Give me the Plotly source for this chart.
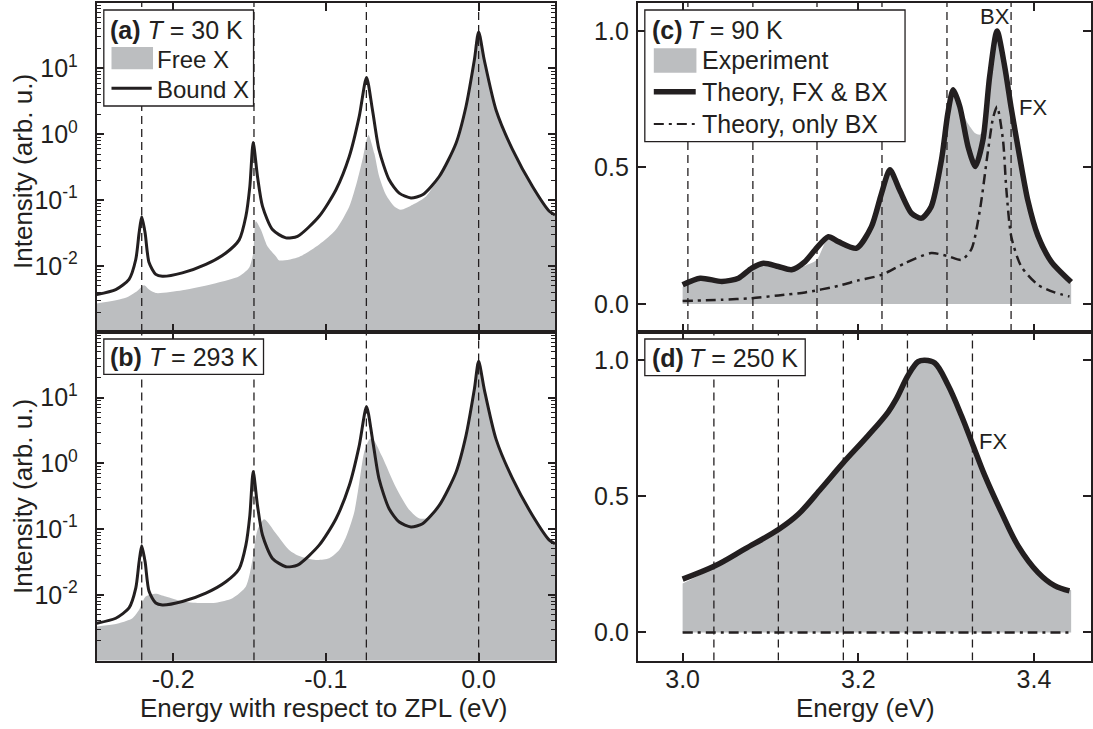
import plotly.graph_objects as go

W, H = 1093, 729
INK = "#231f20"
GREY = "#bcbec0"
FONT = "Liberation Sans, Arial, Helvetica, sans-serif"

# ---------------- data ----------------
# (a)/(b): energy relative to ZPL (eV); bound exciton theory (same in both panels)
bound_x = [-0.25, -0.2376, -0.2289, -0.2245, -0.2223, -0.2206, -0.2184, -0.2158, -0.2114, -0.2071,
           -0.194, -0.1786, -0.1655, -0.1568, -0.1524, -0.1498, -0.1476, -0.1448, -0.1415, -0.135,
           -0.1262, -0.1186, -0.1044, -0.0934, -0.0847, -0.0782, -0.0734, -0.0695, -0.0652, -0.0586,
           -0.052, -0.0443, -0.0367, -0.0258, -0.0148, -0.0083, -0.0028, 0.0, 0.0037, 0.0114,
           0.0223, 0.0354, 0.0463, 0.05]
bound_y = [0.0037, 0.0044, 0.0063, 0.0126, 0.032, 0.056, 0.032, 0.0113, 0.0075, 0.0070,
           0.0079, 0.0106, 0.0158, 0.025, 0.057, 0.162, 0.75, 0.229, 0.0805, 0.0358,
           0.0268, 0.0283, 0.057, 0.144, 0.46, 1.85, 7.3, 2.34, 0.58, 0.204,
           0.128, 0.108, 0.121, 0.229, 0.733, 2.62, 13.4, 35.8, 13.4, 2.34,
           0.58, 0.16, 0.068, 0.06]

# (a) free exciton, T = 30 K
free30_x = [-0.25, -0.2311, -0.2235, -0.2191, -0.2158, -0.2114, -0.194, -0.1721, -0.1568, -0.1503,
            -0.1476, -0.1459, -0.1426, -0.1383, -0.1328, -0.1306, -0.1176, -0.1044, -0.0934, -0.0847,
            -0.0793, -0.0756, -0.0734, -0.0721, -0.0683, -0.0651, -0.0607, -0.0552, -0.0509, -0.0432,
            -0.0345, -0.0258, -0.0148, -0.0083, -0.0028, 0.0, 0.0037, 0.0114, 0.0223, 0.0354,
            0.0463, 0.05]
free30_y = [0.0027, 0.0033, 0.0042, 0.0051, 0.0044, 0.0039, 0.0043, 0.0055, 0.0070, 0.0094,
            0.0158, 0.048, 0.0358, 0.020, 0.0141, 0.0122, 0.0138, 0.0212, 0.0358, 0.080,
            0.204, 0.46, 0.82, 0.98, 0.516, 0.229, 0.121, 0.0805, 0.0718, 0.0855,
            0.114, 0.229, 0.733, 2.62, 13.4, 35.8, 13.4, 2.34, 0.58, 0.16,
            0.068, 0.06]

# (b) free exciton, T = 293 K
free293_x = [-0.25, -0.2355, -0.2267, -0.2223, -0.218, -0.2114, -0.2049, -0.194, -0.183, -0.1721,
             -0.1612, -0.1524, -0.1481, -0.1448, -0.1404, -0.1328, -0.1241, -0.1175, -0.1066, -0.0978,
             -0.0913, -0.0869, -0.0816, -0.0782, -0.0749, -0.0717, -0.0704, -0.0683, -0.0631, -0.0541,
             -0.0453, -0.0387, -0.0322, -0.0258, -0.0148, -0.0083, -0.0028, 0.0, 0.0037, 0.0114,
             0.0223, 0.0354, 0.0463, 0.05]
free293_y = [0.0033, 0.0037, 0.0044, 0.0059, 0.0094, 0.0104, 0.0094, 0.0079, 0.0075, 0.0076,
             0.0089, 0.0134, 0.0339, 0.0968, 0.141, 0.0863, 0.0482, 0.039, 0.034, 0.036,
             0.048, 0.075, 0.174, 0.5, 1.5, 2.3, 2.4, 2.2, 1.26, 0.43,
             0.195, 0.145, 0.15, 0.229, 0.733, 2.62, 13.4, 35.8, 13.4, 2.34,
             0.58, 0.16, 0.068, 0.06]

# phonon replica positions (eV)
zpl_replicas = [-0.2206, -0.1471, -0.0735, 0.0]

# (c) T = 90 K, energy (eV)
exp90_x = [3.0, 3.0201, 3.0447, 3.0636, 3.0788, 3.092, 3.109, 3.124, 3.1394, 3.1526,
           3.1659, 3.1773, 3.198, 3.215, 3.2265, 3.236, 3.247, 3.2606, 3.272, 3.283,
           3.2947, 3.302, 3.308, 3.3156, 3.325, 3.3333, 3.3383, 3.342, 3.3477, 3.3496,
           3.358, 3.3667, 3.374, 3.3837, 3.393, 3.4045, 3.4197, 3.4424]
exp90_y = [0.062, 0.088, 0.078, 0.090, 0.127, 0.145, 0.133, 0.120, 0.140, 0.161,
           0.240, 0.225, 0.200, 0.275, 0.400, 0.485, 0.415, 0.330, 0.310, 0.350,
           0.520, 0.690, 0.775, 0.720, 0.660, 0.625, 0.620, 0.640, 0.740, 0.790,
           0.990, 0.870, 0.720, 0.550, 0.400, 0.270, 0.170, 0.075]

fxbx90_x = [3.0, 3.0201, 3.0447, 3.0636, 3.0788, 3.092, 3.109, 3.124, 3.1394, 3.1508,
            3.1659, 3.1773, 3.198, 3.215, 3.2265, 3.236, 3.247, 3.2606, 3.272, 3.283,
            3.2947, 3.302, 3.308, 3.3156, 3.325, 3.3333, 3.342, 3.3496, 3.358, 3.3667,
            3.374, 3.3837, 3.393, 3.4045, 3.4197, 3.4424]
fxbx90_y = [0.070, 0.094, 0.082, 0.094, 0.131, 0.149, 0.137, 0.125, 0.155, 0.198,
            0.246, 0.228, 0.204, 0.283, 0.405, 0.491, 0.418, 0.332, 0.314, 0.356,
            0.527, 0.698, 0.784, 0.723, 0.576, 0.503, 0.601, 0.833, 1.0, 0.87,
            0.72, 0.54, 0.38, 0.25, 0.155, 0.08]

bx90_x = [3.0, 3.0447, 3.0788, 3.109, 3.1394, 3.1773, 3.2, 3.2265, 3.253, 3.283,
          3.302, 3.3174, 3.3288, 3.3383, 3.3477, 3.3534, 3.358, 3.3648, 3.3686, 3.3743,
          3.3856, 3.4045, 3.4235, 3.4405]
bx90_y = [0.011, 0.015, 0.021, 0.031, 0.042, 0.066, 0.086, 0.106, 0.149, 0.186,
          0.175, 0.161, 0.200, 0.340, 0.560, 0.680, 0.723, 0.600, 0.420, 0.245,
          0.137, 0.070, 0.042, 0.027]

replicas_90 = [3.006, 3.080, 3.153, 3.227, 3.301, 3.374]

# (d) T = 250 K
exp250_x = [3.0, 3.037, 3.071, 3.11, 3.132, 3.158, 3.183, 3.2114, 3.234, 3.2435,
            3.2568, 3.2682, 3.2758, 3.2871, 3.3023, 3.3174, 3.3307, 3.344, 3.3629, 3.3818,
            3.4045, 3.4235, 3.4424]
exp250_y = [0.18, 0.24, 0.30, 0.375, 0.43, 0.525, 0.62, 0.72, 0.805, 0.855,
            0.94, 0.99, 0.995, 0.985, 0.91, 0.81, 0.705, 0.595, 0.46, 0.335,
            0.23, 0.18, 0.155]

fxbx250_x = [3.0, 3.037, 3.071, 3.11, 3.132, 3.158, 3.183, 3.2114, 3.234, 3.2435,
             3.2568, 3.2682, 3.2758, 3.2871, 3.3023, 3.3174, 3.3307, 3.344, 3.3629, 3.3818,
             3.4045, 3.4235, 3.4405]
fxbx250_y = [0.196, 0.245, 0.307, 0.38, 0.435, 0.53, 0.624, 0.724, 0.81, 0.859,
             0.945, 0.995, 1.0, 0.99, 0.908, 0.797, 0.687, 0.577, 0.442, 0.319,
             0.221, 0.172, 0.153]

bx250_x = [3.0, 3.1, 3.2, 3.3, 3.4, 3.4424]
bx250_y = [0.0, 0.0, 0.0, 0.0, 0.0, 0.0]

replicas_250 = [3.0356, 3.109, 3.183, 3.256, 3.330]

# axis ranges / ticks
LOG_RANGE = [-3, 2]
LIN_RANGE = [-0.103, 1.104]
ZPL_RANGE = [-0.25, 0.05]
E_RANGE = [2.949, 3.465]

# ---------------- figure ----------------
fig = go.Figure()


def px_x(x):
    return x / W


def px_y(y):
    return 1 - y / H


def add_fill(x, y, xa, ya):
    fig.add_trace(go.Scatter(x=x, y=y, xaxis=xa, yaxis=ya, mode="lines", fill="tozeroy",
                             fillcolor=GREY, line=dict(width=0, shape="spline", smoothing=0.7),
                             hoverinfo="skip", showlegend=False))


def add_replicas(xs, ylo, yhi, xa, ya):
    for e in xs:
        fig.add_trace(go.Scatter(x=[e, e], y=[ylo, yhi], xaxis=xa, yaxis=ya, mode="lines",
                                 line=dict(color=INK, width=1.3, dash="8px,5px"),
                                 hoverinfo="skip", showlegend=False))


def add_line(x, y, xa, ya, width, dash="solid", smoothing=0.7):
    fig.add_trace(go.Scatter(x=x, y=y, xaxis=xa, yaxis=ya, mode="lines",
                             line=dict(color=INK, width=width, dash=dash, shape="spline",
                                       smoothing=smoothing),
                             hoverinfo="skip", showlegend=False))


# (a)
add_fill(free30_x, free30_y, "x", "y")
add_replicas(zpl_replicas, 10 ** LOG_RANGE[0], 10 ** LOG_RANGE[1], "x", "y")
add_line(bound_x, bound_y, "x", "y", 3)
# (b)
add_fill(free293_x, free293_y, "x2", "y2")
add_replicas(zpl_replicas, 10 ** LOG_RANGE[0], 10 ** LOG_RANGE[1], "x2", "y2")
add_line(bound_x, bound_y, "x2", "y2", 3)
# (c)
add_fill(exp90_x, exp90_y, "x3", "y3")
add_replicas(replicas_90, LIN_RANGE[0], LIN_RANGE[1], "x3", "y3")
add_line(bx90_x, bx90_y, "x3", "y3", 2.5, "10px,5px,3px,5px")
add_line(fxbx90_x, fxbx90_y, "x3", "y3", 5.5)
# (d)
add_fill(exp250_x, exp250_y, "x4", "y4")
add_replicas(replicas_250, LIN_RANGE[0], LIN_RANGE[1], "x4", "y4")
add_line(bx250_x, bx250_y, "x4", "y4", 2.5, "10px,5px,3px,5px")
add_line(fxbx250_x, fxbx250_y, "x4", "y4", 5.5, smoothing=1.0)

tickfont = dict(family=FONT, size=25, color=INK)
common = dict(showline=True, linewidth=2, linecolor=INK, mirror="ticks", ticks="inside",
              ticklen=8, tickwidth=1.5, tickcolor=INK, showgrid=False, zeroline=False,
              tickfont=tickfont)

left_x = [97 / W, 556 / W]
right_x = [639 / W, 1.0]
top_y = [1 - 332 / H, 1 - 2.5 / H]
bot_y = [1 - 660.5 / H, 1 - 332 / H]

log_major = [0.01, 0.1, 1, 10]
log_text = ["10<sup>-2</sup>", "10<sup>-1</sup>", "10<sup>0</sup>", "10<sup>1</sup>"]
log_minor = [k * 10.0 ** e for e in range(-3, 2) for k in range(2, 10)]
zpl_ticks = [-0.2, -0.1, 0.0]
zpl_text = ["-0.2", "-0.1", "0.0"]
e_ticks = [3.0, 3.2, 3.4]
e_text = ["3.0", "3.2", "3.4"]
lin_ticks = [0.0, 0.5, 1.0]
lin_text = ["0.0", "0.5", "1.0"]

logy = dict(common, type="log", range=LOG_RANGE, tickmode="array", tickvals=log_major,
            ticktext=log_text, ticklen=7, ticklabelstandoff=12,
            minor=dict(tickmode="array", tickvals=log_minor, ticks="inside", ticklen=4,
                       tickwidth=1, tickcolor=INK, showgrid=False))
liny = dict(common, range=LIN_RANGE, tickmode="array", tickvals=lin_ticks, ticktext=lin_text,
            ticklabelstandoff=2)
zplx = dict(common, range=ZPL_RANGE, tickmode="array", tickvals=zpl_ticks, ticktext=zpl_text,
            ticklabelstandoff=-5)
ex = dict(common, range=E_RANGE, tickmode="array", tickvals=e_ticks, ticktext=e_text,
          ticklabelstandoff=-5)

fig.update_layout(
    width=W, height=H, margin=dict(l=0, r=0, t=0, b=0),
    paper_bgcolor="white", plot_bgcolor="white", showlegend=False,
    font=dict(family=FONT, color=INK),
    xaxis=dict(zplx, domain=left_x, anchor="y", showticklabels=False),
    yaxis=dict(logy, domain=top_y, anchor="x"),
    xaxis2=dict(zplx, domain=left_x, anchor="y2"),
    yaxis2=dict(logy, domain=bot_y, anchor="x2"),
    xaxis3=dict(ex, domain=right_x, anchor="y3", showticklabels=False),
    yaxis3=dict(liny, domain=top_y, anchor="x3"),
    xaxis4=dict(ex, domain=right_x, anchor="y4"),
    yaxis4=dict(liny, domain=bot_y, anchor="x4"),
)

shapes = []
annotations = []


def box(x0, y0, x1, y1):
    shapes.append(dict(type="rect", xref="paper", yref="paper", x0=px_x(x0), x1=px_x(x1),
                       y0=px_y(y1), y1=px_y(y0), fillcolor="white",
                       line=dict(color=INK, width=1.3), layer="above"))


def patch(x0, y0, x1, y1):
    shapes.append(dict(type="rect", xref="paper", yref="paper", x0=px_x(x0), x1=px_x(x1),
                       y0=px_y(y1), y1=px_y(y0), fillcolor=GREY, line=dict(width=0), layer="above"))


def sample(x0, x1, y, width, dash="solid"):
    shapes.append(dict(type="line", xref="paper", yref="paper", x0=px_x(x0), x1=px_x(x1),
                       y0=px_y(y), y1=px_y(y), line=dict(color=INK, width=width, dash=dash),
                       layer="above"))


def text(x, y, s, size=25, anchor="left", angle=0):
    annotations.append(dict(xref="paper", yref="paper", x=px_x(x), y=px_y(y), text=s,
                            showarrow=False, xanchor=anchor, yanchor="middle", textangle=angle,
                            font=dict(family=FONT, size=size, color=INK)))


# legend (a)
box(104, 10, 254, 106)
text(108, 30, "<b>(a)</b> <i>T</i> = 30 K")
patch(111.7, 47, 153.3, 69.3)
text(155, 59, "Free X", size=24)
sample(111.7, 152, 88.3, 3)
text(155, 89, "Bound X", size=24)
# legend (b)
box(104, 339, 264, 374.3)
text(108, 357, "<b>(b)</b> <i>T</i> = 293 K")
# legend (c)
box(646, 10, 906.7, 141.7)
text(651, 30, "<b>(c)</b>\u2009<i>T</i> = 90 K")
patch(655, 48.3, 697.7, 72.7)
text(701, 60, "Experiment")
sample(655, 697, 91.7, 5.5)
text(701, 92, "Theory, FX &amp; BX")
sample(655, 696, 124, 2.2, "10px,5px,3px,5px")
text(701, 124, "Theory, only BX")
# legend (d)
box(646, 339, 806.7, 375.7)
text(651, 358, "<b>(d)</b>\u2009<i>T</i> = 250 K")

# peak labels
annotations.append(dict(xref="x3", yref="y3", x=3.3555, y=1.053, text="BX", showarrow=False,
                        xanchor="center", yanchor="middle", font=dict(family=FONT, size=22, color=INK)))
annotations.append(dict(xref="x3", yref="y3", x=3.399, y=0.718, text="FX", showarrow=False,
                        xanchor="center", yanchor="middle", font=dict(family=FONT, size=22, color=INK)))
annotations.append(dict(xref="x4", yref="y4", x=3.3534, y=0.70, text="FX", showarrow=False,
                        xanchor="center", yanchor="middle", font=dict(family=FONT, size=22, color=INK)))

# axis titles
text(23, 171, "Intensity (arb. u.)", size=26, anchor="center", angle=-90)
text(23, 496, "Intensity (arb. u.)", size=26, anchor="center", angle=-90)
text(325, 708, "Energy with respect to ZPL (eV)", size=26, anchor="center")
text(867, 708, "Energy (eV)", size=26, anchor="center")

fig.update_layout(shapes=shapes, annotations=annotations)
fig.write_html("out.html", config={"displayModeBar": False},
               post_script="document.body.style.margin='0px';")
